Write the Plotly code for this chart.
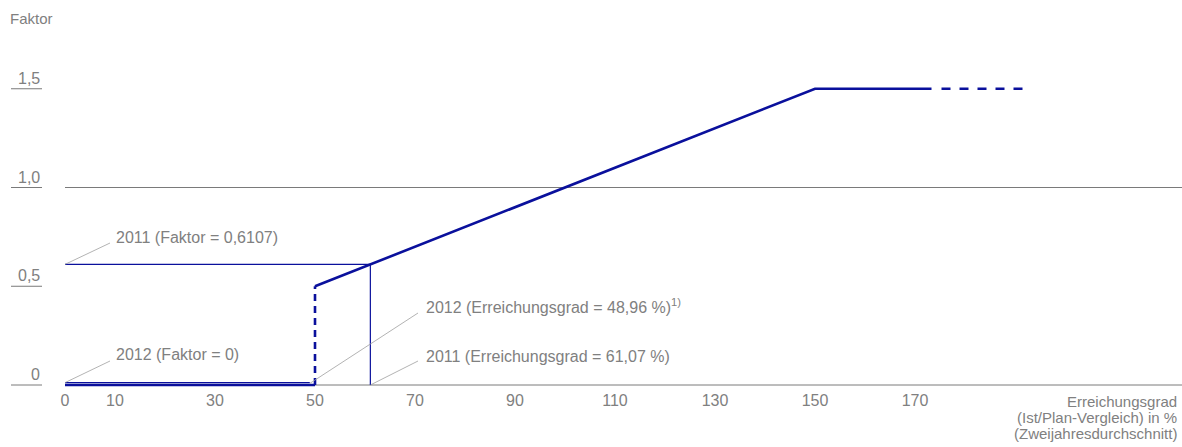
import plotly.graph_objects as go

# ---- data ----
x_tick_vals = [0, 10, 30, 50, 70, 90, 110, 130, 150, 170]
y_tick_vals = [0, 0.5, 1.0, 1.5]
y_tick_text = ["0", "0,5", "1,0", "1,5"]

curve_x = [50, 150, 173.3]
curve_y = [0.5, 1.5, 1.5]
ext_x = [175.3, 192.6]
ext_y = [1.5, 1.5]
zero_x = [0, 50]
zero_y = [0, 0]
jump_x = [50, 50]
jump_y = [0, 0.5]

x_2011, f_2011 = 61.07, 0.6107
x_2012, f_2012 = 48.96, 0.0

axis_title_lines = ["Erreichungsgrad", "(Ist/Plan-Vergleich) in %", "(Zweijahresdurchschnitt)"]

BLUE = "#0a109c"
GRAY = "#808080"
FONT = "Liberation Sans, Arial, sans-serif"

W, H = 1182, 447
ML, MR, MT, MB = 65, 0, 20, 59
PW, PH = W - ML - MR, H - MT - MB
PX_PER_X = 5.0
PX_PER_Y = 197.5
X0_PX, Y0_PX = 65.0, 385.0
Y_MIN = -(MT + PH - Y0_PX) / PX_PER_Y
Y_MAX = (Y0_PX - MT) / PX_PER_Y


def px_to_paper_x(px):
    return (px - ML) / PW


def px_to_paper_y(py):
    return (MT + PH - py) / PH


fig = go.Figure()

# gray reference lines (axis at 0 and line at 1,0)
for yv in [0, 1.0]:
    fig.add_shape(type="line", xref="paper", yref="y", x0=0, x1=1, y0=yv, y1=yv,
                  line=dict(color="#7a7a7a", width=1), layer="below")

# thin blue helper lines for 2011
fig.add_trace(go.Scatter(x=[0, x_2011, x_2011], y=[f_2011, f_2011, 0], mode="lines",
                         line=dict(color=BLUE, width=1.2), hoverinfo="skip", showlegend=False))
# thin blue helper line for 2012 (slightly offset above the thick line)
fig.add_trace(go.Scatter(x=[0, x_2012], y=[f_2012 + 0.012, f_2012 + 0.012], mode="lines",
                         line=dict(color=BLUE, width=1.2), hoverinfo="skip", showlegend=False))

# main curve
fig.add_trace(go.Scatter(x=zero_x, y=zero_y, mode="lines",
                         line=dict(color=BLUE, width=2.6), showlegend=False))
fig.add_trace(go.Scatter(x=jump_x, y=jump_y, mode="lines",
                         line=dict(color=BLUE, width=2.6, dash="7px,5px"), showlegend=False))
fig.add_trace(go.Scatter(x=curve_x, y=curve_y, mode="lines",
                         line=dict(color=BLUE, width=2.6), showlegend=False))
fig.add_trace(go.Scatter(x=ext_x, y=ext_y, mode="lines",
                         line=dict(color=BLUE, width=2.6, dash="9px,9px"), showlegend=False))

# y tick labels with short underline
for v, t in zip(y_tick_vals, y_tick_text):
    fig.add_annotation(x=px_to_paper_x(42), xref="paper", y=v, yref="y", text=t, showarrow=False,
                       xanchor="right", yanchor="bottom", yshift=0,
                       font=dict(family=FONT, size=16, color=GRAY))
    fig.add_shape(type="line", xref="paper", yref="y", x0=px_to_paper_x(11), x1=px_to_paper_x(42),
                  y0=v, y1=v, line=dict(color="#7a7a7a", width=1))

# callout labels with leader lines
callouts = [
    ("2011 (Faktor = 0,6107)", 0, f_2011, 114, 237, 110, 243),
    ("2012 (Faktor = 0)", 0, f_2012 + 0.012, 114, 354, 110, 361),
    ("2012 (Erreichungsgrad = 48,96 %)<sup>1)</sup>", x_2012, 0.008, 424, 306, 418, 313),
    ("2011 (Erreichungsgrad = 61,07 %)", x_2011, 0, 424, 356, 418, 361),
]
for text, xd, yd, tx, ty, lx, ly in callouts:
    ex = (lx - X0_PX) / PX_PER_X
    ey = (Y0_PX - ly) / PX_PER_Y
    fig.add_shape(type="line", xref="x", yref="y", x0=xd, y0=yd, x1=ex, y1=ey,
                  line=dict(color="#a0a0a0", width=0.8))
    fig.add_annotation(x=(tx - X0_PX) / PX_PER_X, y=(Y0_PX - ty) / PX_PER_Y, xref="x", yref="y",
                       text=text, showarrow=False, xanchor="left", yanchor="middle",
                       font=dict(family=FONT, size=16, color=GRAY))

# "Faktor" label
fig.add_annotation(x=px_to_paper_x(8), xref="paper", y=px_to_paper_y(19), yref="paper",
                   text="Faktor", showarrow=False, xanchor="left", yanchor="middle",
                   font=dict(family=FONT, size=15, color=GRAY))

# x axis title (three right-aligned lines)
for i, line in enumerate(axis_title_lines):
    fig.add_annotation(x=px_to_paper_x(1179), xref="paper", y=px_to_paper_y(401 + 16 * i),
                       yref="paper", text=line, showarrow=False, xanchor="right",
                       yanchor="middle", font=dict(family=FONT, size=15, color=GRAY))

fig.update_layout(
    width=W, height=H,
    margin=dict(l=ML, r=MR, t=MT, b=MB),
    paper_bgcolor="white", plot_bgcolor="white",
    xaxis=dict(range=[0, PW / PX_PER_X], tickvals=x_tick_vals,
               ticktext=[str(v) for v in x_tick_vals],
               showgrid=False, zeroline=False, showline=False, ticks="",
               tickfont=dict(family=FONT, size=16, color=GRAY), ticklabelstandoff=1),
    yaxis=dict(range=[Y_MIN, Y_MAX], showgrid=False, zeroline=False,
               showline=False, showticklabels=False, ticks=""),
    showlegend=False,
)

fig.write_html("out.html", config={"displayModeBar": False},
               post_script="document.body.style.margin='0';")
